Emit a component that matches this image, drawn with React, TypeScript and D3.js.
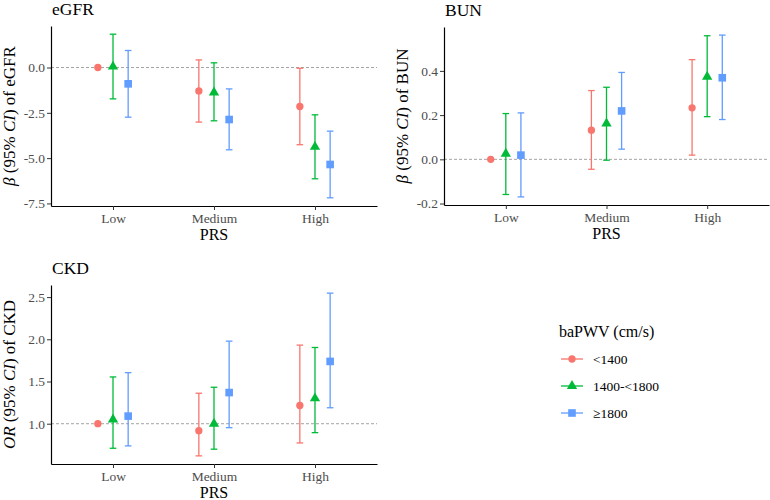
import React, { useEffect, useRef } from "react";
import * as d3 from "d3";

const categories = ["Low", "Medium", "High"];
const groups = ["<1400", "1400-<1800", "≥1800"];
const colors = ["#F8766D", "#00BA38", "#619CFF"];
const shapes = [d3.symbolCircle, d3.symbolTriangle, d3.symbolSquare];
const shapeSizes = [42, 46, 58];

// rows = baPWV groups, columns = PRS categories
const egfrEst = [[0, -1.29, -2.15], [0.05, -1.38, -4.38], [-0.9, -2.87, -5.35]];
const egfrLow = [[0, -3.01, -4.26], [-1.73, -2.94, -6.14], [-2.74, -4.54, -7.19]];
const egfrHigh = [[0, 0.42, -0.04], [1.84, 0.26, -2.61], [0.94, -1.18, -3.51]];
const egfrTicks = [0, -2.5, -5, -7.5];

const bunEst = [[0, 0.132, 0.233], [0.025, 0.162, 0.374], [0.019, 0.219, 0.369]];
const bunLow = [[0, -0.045, 0.019], [-0.159, -0.004, 0.193], [-0.17, 0.046, 0.18]];
const bunHigh = [[0, 0.311, 0.451], [0.207, 0.326, 0.559], [0.21, 0.393, 0.562]];
const bunTicks = [0.4, 0.2, 0.0, -0.2];

const ckdEst = [[1.0, 0.918, 1.216], [1.05, 1.0, 1.3], [1.09, 1.369, 1.738]];
const ckdLow = [[1.0, 0.619, 0.772], [0.709, 0.698, 0.894], [0.737, 0.953, 1.189]];
const ckdHigh = [[1.0, 1.361, 1.931], [1.554, 1.432, 1.903], [1.605, 1.978, 2.547]];
const ckdTicks = [2.5, 2.0, 1.5, 1.0];

const panels = [
  { title: "eGFR", stat: "β", ref: 0, est: egfrEst, lo: egfrLow, hi: egfrHigh, ticks: egfrTicks, x0: 51, x1: 377, y0: 26, y1: 206 },
  { title: "BUN", stat: "β", ref: 0, est: bunEst, lo: bunLow, hi: bunHigh, ticks: bunTicks, x0: 444, x1: 769, y0: 27, y1: 205 },
  { title: "CKD", stat: "OR", ref: 1, est: ckdEst, lo: ckdLow, hi: ckdHigh, ticks: ckdTicks, x0: 51, x1: 377, y0: 285, y1: 464 },
];

const font = "Liberation Serif";

export default function App() {
  const ref = useRef<SVGSVGElement>(null);

  useEffect(() => {
    const svg = d3.select(ref.current);
    svg.selectAll("*").remove();

    panels.forEach((p) => {
      const g = svg.append("g");
      const all = [...p.lo.flat(), ...p.hi.flat()];
      const [mn, mx] = d3.extent(all) as [number, number];
      const pad = (mx - mn) * 0.05;
      const y = d3.scaleLinear().domain([mn - pad, mx + pad]).range([p.y1, p.y0]);
      const x = d3.scalePoint().domain(categories).range([p.x0, p.x1]).padding(0.614);
      const step = x.step();

      // reference line
      g.append("line")
        .attr("x1", p.x0)
        .attr("x2", p.x1)
        .attr("y1", y(p.ref))
        .attr("y2", y(p.ref))
        .attr("stroke", "#8c8c8c")
        .attr("stroke-width", 0.8)
        .attr("stroke-dasharray", "3,2");

      // axes
      const yAxis = g
        .append("g")
        .attr("transform", `translate(${p.x0},0)`)
        .call(d3.axisLeft(y).tickValues(p.ticks).tickFormat(d3.format(".1f")).tickSize(4).tickSizeOuter(0).tickPadding(2));
      const xAxis = g
        .append("g")
        .attr("transform", `translate(0,${p.y1})`)
        .call(d3.axisBottom(x).tickSize(4).tickSizeOuter(0).tickPadding(3));
      [yAxis, xAxis].forEach((a) => {
        a.attr("font-family", font).attr("font-size", 13.5);
        a.select(".domain").attr("stroke", "#000").attr("stroke-width", 1.2);
        a.selectAll(".tick line").attr("stroke", "#333");
        a.selectAll(".tick text").attr("fill", "#4d4d4d");
      });
      yAxis.selectAll(".tick text").text((d: any) => (d < 0 ? "-" : "") + d3.format(".1f")(Math.abs(d)));

      // error bars and points
      groups.forEach((_, gi) => {
        const off = (gi - 1) * 0.15 * step;
        categories.forEach((c, ci) => {
          const cx = (x(c) as number) + off;
          const lo = p.lo[gi][ci];
          const hi = p.hi[gi][ci];
          if (hi > lo) {
            const bars = g.append("g").attr("stroke", colors[gi]).attr("stroke-width", 1.3);
            bars.append("line").attr("x1", cx).attr("x2", cx).attr("y1", y(lo)).attr("y2", y(hi));
            bars.append("line").attr("x1", cx - 3.3).attr("x2", cx + 3.3).attr("y1", y(lo)).attr("y2", y(lo));
            bars.append("line").attr("x1", cx - 3.3).attr("x2", cx + 3.3).attr("y1", y(hi)).attr("y2", y(hi));
          }
          g.append("path")
            .attr("d", d3.symbol().type(shapes[gi]).size(shapeSizes[gi])() as string)
            .attr("transform", `translate(${cx},${y(p.est[gi][ci])})`)
            .attr("fill", colors[gi]);
        });
      });

      // titles
      g.append("text")
        .attr("x", p.x0 + 1)
        .attr("y", p.y0 - 11)
        .attr("font-family", font)
        .attr("font-size", 17.5)
        .text(p.title);
      g.append("text")
        .attr("x", (p.x0 + p.x1) / 2)
        .attr("y", p.y1 + 33.5)
        .attr("text-anchor", "middle")
        .attr("font-family", font)
        .attr("font-size", 16)
        .text("PRS");
      const yl = g
        .append("text")
        .attr("transform", `translate(${p.x0 - 36},${(p.y0 + p.y1) / 2}) rotate(-90)`)
        .attr("text-anchor", "middle")
        .attr("font-family", font)
        .attr("font-size", 17);
      yl.append("tspan").attr("font-style", "italic").text(p.stat);
      yl.append("tspan").text(" (95% ");
      yl.append("tspan").attr("font-style", "italic").text("CI");
      yl.append("tspan").text(") of " + p.title);
    });

    // legend
    const lg = svg.append("g").attr("font-family", font);
    lg.append("text")
      .attr("x", 559)
      .attr("y", 337)
      .attr("font-size", 16)
      .text("baPWV (cm/s)");
    groups.forEach((name, gi) => {
      const ly = 359 + gi * 27;
      lg.append("line")
        .attr("x1", 561)
        .attr("x2", 583)
        .attr("y1", ly)
        .attr("y2", ly)
        .attr("stroke", colors[gi])
        .attr("stroke-width", 1.3);
      lg.append("path")
        .attr("d", d3.symbol().type(shapes[gi]).size(shapeSizes[gi])() as string)
        .attr("transform", `translate(572,${ly})`)
        .attr("fill", colors[gi]);
      lg.append("text")
        .attr("x", 593)
        .attr("y", ly)
        .attr("dy", "0.35em")
        .attr("font-size", 13.5)
        .text(name);
    });
  }, []);

  return (
    <svg
      ref={ref}
      width={770}
      height={500}
      style={{ position: "absolute", left: 0, top: 0, background: "#fff" }}
    />
  );
}
